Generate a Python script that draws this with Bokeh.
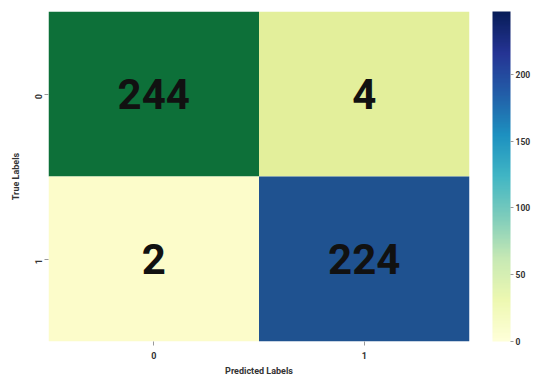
from bokeh.plotting import figure
from bokeh.models import ColumnDataSource, LinearColorMapper, ColorBar, FixedTicker
from bokeh.palettes import YlGnBu9
from bokeh.embed import file_html
from bokeh.resources import INLINE
from bokeh.core.properties import value
import math

# data
pred_labels = ["0", "1", "0", "1"]
true_labels = ["0", "0", "1", "1"]
counts = [244, 4, 2, 224]
cell_colors = ["#0d7039", "#e3ef9b", "#fcfcca", "#1f5290"]
cbar_ticks = [0, 50, 100, 150, 200]


def interp(pal, n):
    pal = list(pal)
    rgb = [tuple(int(c[i:i + 2], 16) for i in (1, 3, 5)) for c in pal]
    out = []
    for k in range(n):
        t = k / (n - 1) * (len(rgb) - 1)
        i = min(int(t), len(rgb) - 2)
        f = t - i
        a, b = rgb[i], rgb[i + 1]
        out.append("#%02x%02x%02x" % tuple(round(a[j] + (b[j] - a[j]) * f) for j in range(3)))
    return out


src = ColumnDataSource(dict(x=pred_labels, y=true_labels, v=counts,
                            t=[str(c) for c in counts], c=cell_colors))

p = figure(width=536, height=374, frame_width=421, frame_height=330,
           x_range=["0", "1"], y_range=["1", "0"],
           output_backend="svg", toolbar_location=None,
           min_border_left=48, min_border_top=11, min_border_bottom=33, min_border_right=67)
p.rect(x="x", y="y", width=1, height=1, source=src, fill_color="c", line_color=None)
p.text(x="x", y="y", text="t", source=src, text_align="center", text_baseline="middle",
       text_font=value("Roboto"), text_font_style="bold", text_font_size="42px", text_color="#111111")

p.outline_line_color = None
p.grid.visible = False
for ax in (p.xaxis, p.yaxis):
    ax.axis_line_color = None
    ax.major_tick_line_color = "#999999"
    ax.major_tick_in = 0
    ax.major_tick_out = 4
    ax.minor_tick_line_color = None
    ax.major_label_text_font = "Roboto"
    ax.major_label_text_font_style = "bold"
    ax.major_label_text_font_size = "9px"
    ax.major_label_text_color = "#333333"
    ax.axis_label_text_font = "Roboto"
    ax.axis_label_text_font_style = "bold"
    ax.axis_label_text_font_size = "9px"
    ax.axis_label_text_color = "#333333"
p.xaxis.axis_label = "Predicted Labels"
p.yaxis.axis_label = "True Labels"
p.yaxis.major_label_orientation = math.pi / 2
p.xaxis.major_label_standoff = 6
p.yaxis.major_label_standoff = 6
p.xaxis.axis_label_standoff = 4
p.yaxis.axis_label_standoff = 8

mapper = LinearColorMapper(palette=interp(list(reversed(YlGnBu9)), 256), low=0, high=247)
cb = ColorBar(color_mapper=mapper, ticker=FixedTicker(ticks=cbar_ticks),
              width=18, margin=0, padding=0, location=(23, 0),
              major_tick_in=0, major_tick_out=3, major_tick_line_color="#999999",
              bar_line_color=None, border_line_color=None, background_fill_color=None,
              major_label_text_font="Roboto", major_label_text_font_style="bold",
              major_label_text_font_size="8.5px", major_label_text_color="#333333",
              label_standoff=2)
p.add_layout(cb, "right")

open("out.html", "w").write(file_html(p, INLINE))
